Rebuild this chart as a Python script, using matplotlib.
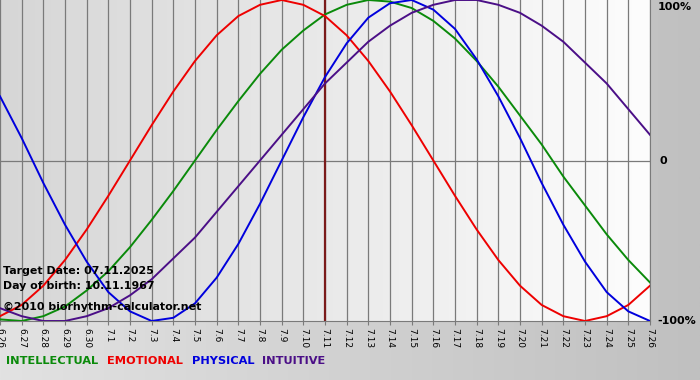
import numpy as np
import matplotlib.pyplot as plt
from matplotlib.colors import LinearSegmentedColormap

# dates shown on the x axis (June / July)
days = ['6.26', '6.27', '6.28', '6.29', '6.30',
        '7.1', '7.2', '7.3', '7.4', '7.5', '7.6', '7.7', '7.8', '7.9', '7.10',
        '7.11', '7.12', '7.13', '7.14', '7.15', '7.16', '7.17', '7.18', '7.19',
        '7.20', '7.21', '7.22', '7.23', '7.24', '7.25', '7.26']
target_day = '7.11'

# biorhythm values, one per day (-1 .. 1)
intellectual = [-0.99, -1.00, -0.97, -0.91, -0.81, -0.69, -0.54, -0.37, -0.19, 0.00,
                0.19, 0.37, 0.54, 0.69, 0.81, 0.91, 0.97, 1.00, 0.99, 0.95,
                0.87, 0.76, 0.62, 0.46, 0.28, 0.10, -0.10, -0.28, -0.46, -0.62, -0.76]
emotional = [-0.97, -0.90, -0.78, -0.62, -0.43, -0.22, 0.00, 0.22, 0.43, 0.62,
             0.78, 0.90, 0.97, 1.00, 0.97, 0.90, 0.78, 0.62, 0.43, 0.22,
             0.00, -0.22, -0.43, -0.62, -0.78, -0.90, -0.97, -1.00, -0.97, -0.90, -0.78]
physical = [0.40, 0.14, -0.14, -0.40, -0.63, -0.82, -0.94, -1.00, -0.98, -0.89,
            -0.73, -0.52, -0.27, 0.00, 0.27, 0.52, 0.73, 0.89, 0.98, 1.00,
            0.94, 0.82, 0.63, 0.40, 0.14, -0.14, -0.40, -0.63, -0.82, -0.94, -1.00]
intuitive = [-0.92, -0.97, -1.00, -1.00, -0.97, -0.92, -0.84, -0.74, -0.61, -0.48,
             -0.32, -0.16, 0.00, 0.16, 0.32, 0.48, 0.61, 0.74, 0.84, 0.92,
             0.97, 1.00, 1.00, 0.97, 0.92, 0.84, 0.74, 0.61, 0.48, 0.32, 0.16]

series = [('INTELLECTUAL', intellectual, '#0a8a0a'),
          ('EMOTIONAL', emotional, '#ee0000'),
          ('PHYSICAL', physical, '#0000dd'),
          ('INTUITIVE', intuitive, '#4b0f87')]

fig = plt.figure(figsize=(7, 3.8), dpi=100)

# grey gradient behind everything
bg = fig.add_axes([0, 0, 1, 1], zorder=-10)
bg.imshow(np.linspace(0, 1, 256).reshape(1, -1),
          cmap=LinearSegmentedColormap.from_list('bg', ['#e2e2e2', '#c0c0c0']),
          aspect='auto', extent=[0, 1, 0, 1])
bg.axis('off')

ax = fig.add_axes([0, 59 / 380, 650 / 700, 321 / 380])
x = np.arange(len(days))
ax.set_xlim(0, len(days) - 1)
ax.set_ylim(-1, 1)

# plot area gradient, darker on the left
ax.imshow(np.linspace(0, 1, 256).reshape(1, -1),
          cmap=LinearSegmentedColormap.from_list('pa', ['#d6d6d6', '#fdfdfd']),
          aspect='auto', extent=[0, len(days) - 1, -1, 1], zorder=0)

for xi in x:
    ax.axvline(xi, color='#7a7a7a', lw=0.9, zorder=1)
ax.axhline(0, color='#7a7a7a', lw=0.9, zorder=1)
ax.axvline(days.index(target_day), color='#7a1a1a', lw=1.6, zorder=2)

for name, vals, col in series:
    ax.plot(x, vals, color=col, lw=1.4, zorder=3, solid_joinstyle='round')

ax.set_xticks(x)
ax.set_xticklabels(days, rotation=270, fontsize=6.5)
ax.tick_params(axis='x', direction='out', length=3, width=0.8, color='#7a7a7a', pad=2)
ax.set_yticks([])
for s in ['top', 'left']:
    ax.spines[s].set_visible(False)
ax.spines['bottom'].set_color('#7a7a7a')
ax.spines['right'].set_color('#7a7a7a')

# right side percent labels
ax.text(1.012, 0.995, '100%', transform=ax.transAxes, ha='left', va='top',
        fontsize=8, fontweight='bold')
ax.text(1.014, 0.5, '0', transform=ax.transAxes, ha='left', va='center',
        fontsize=8, fontweight='bold')
ax.text(1.012, 0.0, '-100%', transform=ax.transAxes, ha='left', va='center',
        fontsize=8, fontweight='bold', clip_on=False)

# info text inside the plot
ax.text(0.004, 0.156, 'Target Date: 07.11.2025', transform=ax.transAxes,
        va='center', fontsize=7.9, fontweight='bold')
ax.text(0.004, 0.109, 'Day of birth: 10.11.1967', transform=ax.transAxes,
        va='center', fontsize=7.9, fontweight='bold')
ax.text(0.004, 0.044, '©2010 biorhythm-calculator.net', transform=ax.transAxes,
        va='center', fontsize=7.9, fontweight='bold')

# legend along the bottom
lx = [6, 107, 192, 262]
for (name, vals, col), px in zip(series, lx):
    fig.text(px / 700, 19 / 380, name, color=col, fontsize=8.2, fontweight='bold', va='center')

fig.savefig('out.png', dpi=100)
